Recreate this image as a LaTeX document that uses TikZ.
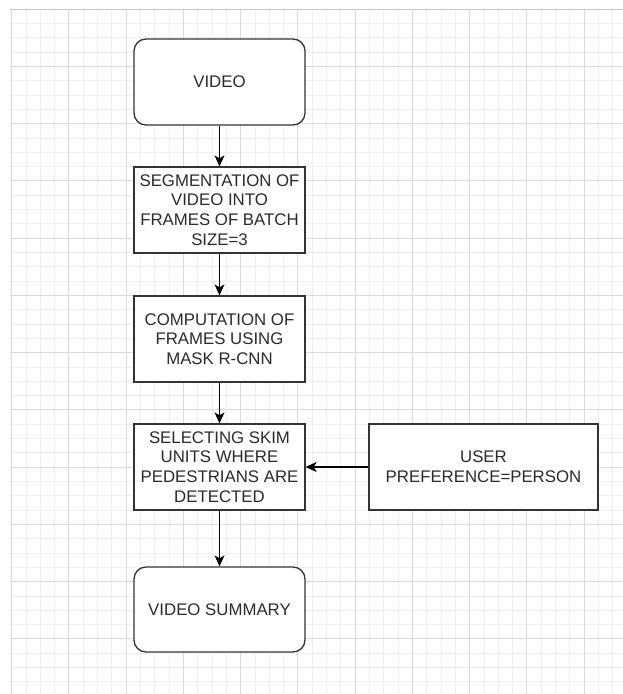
\documentclass[tikz,border=0pt]{standalone}
\usepackage{fontspec}
\setmainfont{Liberation Sans}
\usetikzlibrary{arrows.meta}
\definecolor{linecol}{HTML}{333333}
\definecolor{textcol}{HTML}{2B2B2B}
\definecolor{gridminor}{HTML}{EEEEEE}
\definecolor{gridmajor}{HTML}{DADADA}
\definecolor{gridedge}{HTML}{C8C8C8}
\begin{document}
\begin{tikzpicture}[x=1pt,y=-1pt,
  boxstyle/.style={draw=linecol, line width=1.3pt, fill=white, minimum width=171pt, minimum height=86pt, inner sep=0pt, align=center, text=textcol, font=\fontsize{16.8}{19.7}\selectfont},
  roundbox/.style={boxstyle, rounded corners=12pt},
  flow/.style={draw=black, line width=1.3pt, -{Stealth[length=11pt,width=10pt,inset=3pt]}},
  minorline/.style={draw=gridminor, line width=0.6pt},
  majorline/.style={draw=gridmajor, line width=0.8pt}]
\useasboundingbox (0,0) rectangle (623,694);
\fill[white] (0,0) rectangle (623,694);
% grid
\begin{scope}
\clip (10,9) rectangle (623,694);
\foreach \i in {0,...,43} {
  \draw[minorline] ({11.5+14.3125*\i},9) -- ({11.5+14.3125*\i},694);
}
\foreach \i in {0,...,48} {
  \draw[minorline] (10,{9+14.3125*\i}) -- (623,{9+14.3125*\i});
}
\foreach \i in {0,...,11} {
  \draw[majorline] ({11.5+57.25*\i},9) -- ({11.5+57.25*\i},694);
}
\foreach \i in {0,...,12} {
  \draw[majorline] (10,{9+57.25*\i}) -- (623,{9+57.25*\i});
}
\end{scope}
\draw[draw=gridedge, line width=1pt] (10,9) -- (623,9);
% nodes
\node[roundbox] (video) at (219.5,82) {VIDEO};
\node[boxstyle] (seg) at (219.5,210) {SEGMENTATION OF\\VIDEO INTO\\FRAMES OF BATCH\\SIZE=3};
\node[boxstyle] (comp) at (219.5,339) {COMPUTATION OF\\FRAMES USING\\MASK R-CNN};
\node[boxstyle] (sel) at (219.5,467) {SELECTING SKIM\\UNITS WHERE\\PEDESTRIANS ARE\\DETECTED};
\node[boxstyle, minimum width=229pt] (user) at (483.5,467) {USER\\PREFERENCE=PERSON};
\node[roundbox, minimum height=85pt] (summary) at (219.5,609.5) {VIDEO SUMMARY};
% connectors
\draw[flow] (video) -- (seg);
\draw[flow] (seg) -- (comp);
\draw[flow] (comp) -- (sel);
\draw[flow] (user) -- (sel);
\draw[flow] (sel) -- (summary);
\end{tikzpicture}
\end{document}
